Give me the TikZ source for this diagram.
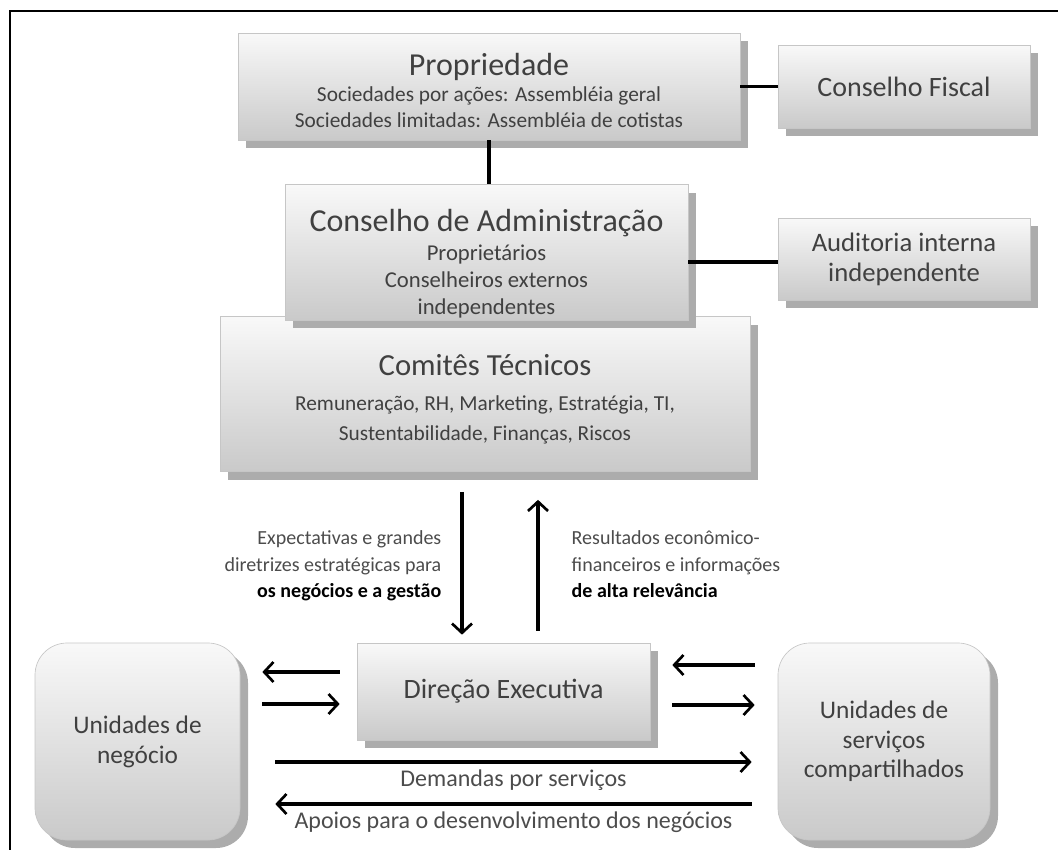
\documentclass[tikz,border=0pt]{standalone}
\usepackage{fontspec}
\setmainfont{Carlito}
\usetikzlibrary{arrows.meta,shadows,calc}

\newcommand\boxtitle{\fontsize{24}{28}\selectfont}
\newcommand\flowtxt{\fontsize{15}{20}\selectfont}

\tikzset{
  box/.style={draw=gray!45, line width=0.5pt, top color=gray!5, bottom color=gray!42,
    drop shadow={shadow xshift=6pt, shadow yshift=-6pt, fill=gray!65, opacity=1},
    align=center, inner sep=2pt, text=black!75},
  roundbox/.style={box, rounded corners=24pt},
  conn/.style={line width=2.6pt},
  flow/.style={line width=2.6pt, -{Straight Barb[length=7pt,width=15pt,line width=2pt]}},
  flowlabel/.style={text=black!70, font=\flowtxt}
}

\begin{document}
\begin{tikzpicture}[x=0.75pt, y=-0.75pt]
\useasboundingbox (0,0) rectangle (1058,850);

% frame
\draw[line width=2pt] (10,850) -- (10,11) -- (1058,11);

% ownership and supervisory bodies
\node[box, minimum width=376.5pt, minimum height=80.25pt,
      font=\fontsize{16}{19}\selectfont] (prop) at (489,86.5)
  {{\boxtitle\rule{0pt}{22pt}Propriedade}\\[1pt]
   Sociedades por ações: Assembléia geral\\
   Sociedades limitadas: Assembléia de cotistas};
\node[box, minimum width=189pt, minimum height=62.25pt,
      font=\fontsize{21}{25}\selectfont] (fiscal) at (904,86.5)
  {Conselho Fiscal};

\node[box, minimum width=397.5pt, minimum height=116.25pt,
      font=\fontsize{16}{22.5}\selectfont] (comites) at (485,394)
  {{\fontsize{23}{27}\selectfont\rule{0pt}{24pt}Comitês Técnicos}\\[4pt]
   Remuneração, RH, Marketing, Estratégia, TI,\\
   Sustentabilidade, Finanças, Riscos};

\node[box, minimum width=302.25pt, minimum height=101.25pt,
      font=\fontsize{17}{20}\selectfont] (cadm) at (486.5,252.5)
  {{\boxtitle\rule{0pt}{33pt}Conselho de Administração}\\[2pt]
   Proprietários\\
   Conselheiros externos\\
   independentes};
\node[box, minimum width=189pt, minimum height=61.5pt,
      font=\fontsize{20}{22.5}\selectfont] (audit) at (904,259)
  {Auditoria interna\\ independente};

% executive level
\node[box, minimum width=219.75pt, minimum height=72.75pt,
      font=\fontsize{21}{25}\selectfont] (direcao) at (503.5,691.5)
  {Direção Executiva};
\node[roundbox, minimum width=153.75pt, minimum height=147.75pt,
      font=\fontsize{19}{22.5}\selectfont] (negocio) at (137.5,741.5)
  {Unidades de\\ negócio};
\node[roundbox, minimum width=159pt, minimum height=147.75pt,
      font=\fontsize{19}{22}\selectfont] (servicos) at (884,741.5)
  {Unidades de\\ serviços\\ compartilhados};

% connectors between bodies
\draw[conn] (prop.east) -- (fiscal.west);
\draw[conn] (prop.south) -- (prop.south |- cadm.north);
\coordinate (cadmout) at ($(cadm.east)+(0,9.5)$);
\draw[conn] (cadmout) -- (cadmout -| audit.west);

% vertical flows
\draw[flow] ($(comites.south)+(-23,20)$) -- ($(comites.south |- direcao.north)+(-23,-8)$);
\draw[flow] ($(comites.south |- direcao.north)+(53,-12)$) -- ($(comites.south)+(53,28)$);

\node[flowlabel, align=right, anchor=north east] (expect) at (446,526)
  {Expectativas e grandes\\ diretrizes estratégicas para\\
   \textcolor{black}{\bfseries os negócios e a gestão}};
\node[flowlabel, align=left, anchor=north west] (result) at (567,526)
  {Resultados econômico-\\ financeiros e informações\\
   \textcolor{black}{\bfseries de alta relevância}};

% horizontal flows
\draw[flow] ($(direcao.west)+(-17,-19.5)$) -- ($(negocio.east |- direcao.west)+(22,-19.5)$);
\draw[flow] ($(negocio.east |- direcao.west)+(22,12.5)$) -- ($(direcao.west)+(-17,12.5)$);
\draw[flow] ($(servicos.west |- direcao.east)+(-23,-26.5)$) -- ($(direcao.east)+(22,-26.5)$);
\draw[flow] ($(direcao.east)+(22,13.5)$) -- ($(servicos.west |- direcao.east)+(-23,13.5)$);

\draw[flow] ($(negocio.east)+(35,20.5)$) -- ($(servicos.west)+(-26,20.5)$)
  node[flowlabel, midway, below=1pt, font=\fontsize{18}{21}\selectfont] (dem) {Demandas por serviços};
\draw[flow] ($(servicos.west)+(-26,62.5)$) -- ($(negocio.east)+(35,62.5)$)
  node[flowlabel, midway, below=1pt, font=\fontsize{18}{21}\selectfont] (apo) {Apoios para o desenvolvimento dos negócios};
\end{tikzpicture}
\end{document}
